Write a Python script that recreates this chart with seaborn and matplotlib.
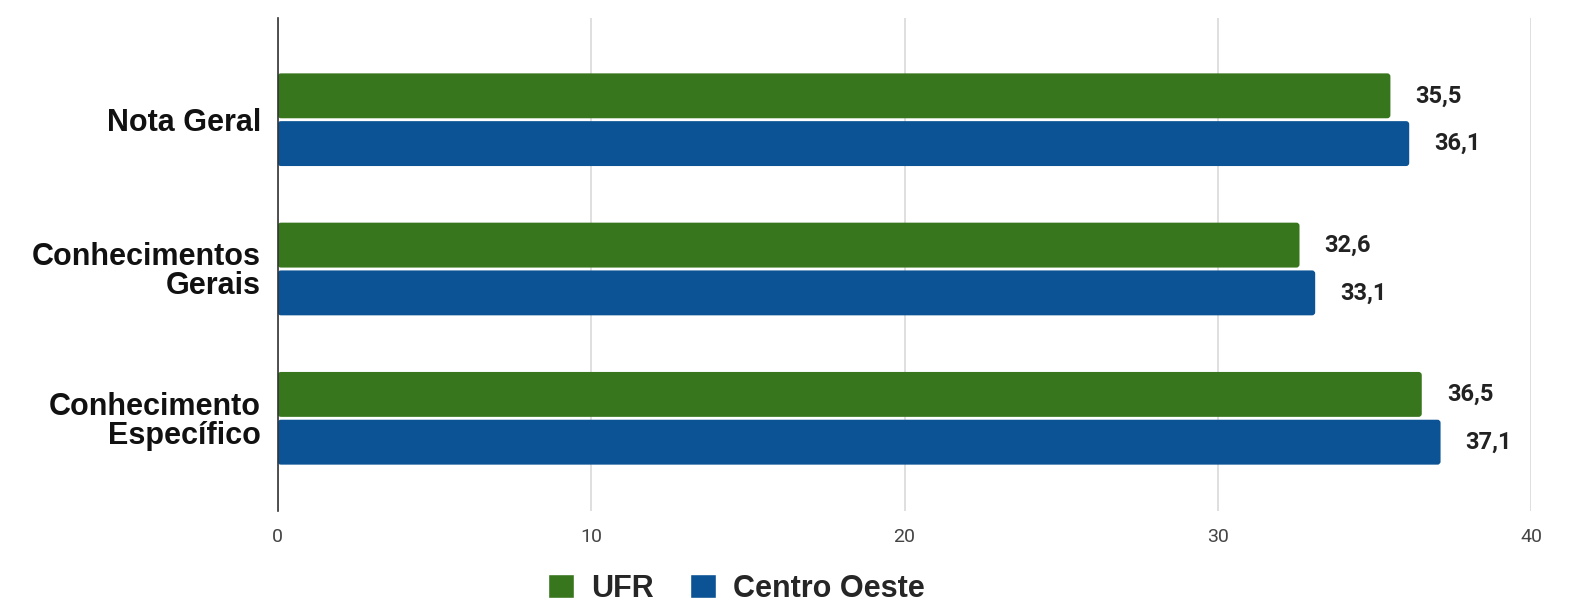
import matplotlib.pyplot as plt
from matplotlib.patches import FancyBboxPatch
import seaborn as sns
import pandas as pd

categories = ['Nota Geral', 'Conhecimentos\nGerais', 'Conhecimento\nEspecífico']
series = ['UFR', 'Centro Oeste']
ufr_values = [35.5, 32.6, 36.5]
co_values = [36.1, 33.1, 37.1]
x_ticks = [0, 10, 20, 30, 40]

COLORS = {'UFR': '#38761d', 'Centro Oeste': '#0b5394'}
ARIAL = ['Liberation Sans', 'DejaVu Sans']
ROBOTO = ['Roboto', 'DejaVu Sans']

df = pd.DataFrame({
    'categoria': categories * 2,
    'serie': [series[0]] * 3 + [series[1]] * 3,
    'valor': ufr_values + co_values,
})

sns.set_style('white')
plt.rcParams['font.family'] = ARIAL

fig = plt.figure(figsize=(15.87, 6.06), dpi=100)
ax = fig.add_axes([0.175, 0.157, 0.79, 0.813])

sns.barplot(data=df, y='categoria', x='valor', hue='serie', orient='h',
            palette=COLORS, width=0.64, gap=0.06, ax=ax, legend=True,
            saturation=1)

ax.set_xlim(0, 40)
ax.set_ylim(2.62, -0.68)

# cantos levemente arredondados
for cont in ax.containers:
    for bar in cont:
        x, y = bar.get_x(), bar.get_y()
        w, h = bar.get_width(), bar.get_height()
        bar.set_visible(False)
        ax.add_patch(FancyBboxPatch(
            (x, y), w, h, boxstyle='round,pad=0,rounding_size=0.1',
            mutation_aspect=0.21, fc=bar.get_facecolor(), ec='none', zorder=2))
        ax.annotate(f"{w:.1f}".replace('.', ','),
                    xy=(w, y + h / 2),
                    xytext=(18, 0), textcoords='offset points',
                    ha='left', va='center', fontsize=17, fontweight='bold',
                    color='#222222', family=ROBOTO)

ax.set_xticks(x_ticks)
ax.set_xticklabels([str(t) for t in x_ticks], fontsize=14, color='#444444',
                   family=ROBOTO)
for lbl in ax.get_yticklabels():
    lbl.set_fontsize(22)
    lbl.set_fontweight('bold')
    lbl.set_fontfamily(ARIAL)
    lbl.set_color('#111111')
    lbl.set_linespacing(0.95)
ax.tick_params(axis='both', length=0, pad=12)
ax.set_xlabel('')
ax.set_ylabel('')

ax.xaxis.grid(True, color='#d9d9d9', lw=1.2)
ax.set_axisbelow(True)
for s in ['top', 'right', 'bottom']:
    ax.spines[s].set_visible(False)
ax.spines['left'].set_color('#333333')
ax.spines['left'].set_linewidth(1.2)

ax.legend(loc='upper center', bbox_to_anchor=(0.366, -0.09), ncol=2,
          frameon=False, prop={'size': 22, 'weight': 'bold', 'family': ARIAL},
          handlelength=0.85, handleheight=0.85, handletextpad=0.55,
          columnspacing=1.2, borderpad=0.1)

plt.savefig('out.png', dpi=100, facecolor='white')
